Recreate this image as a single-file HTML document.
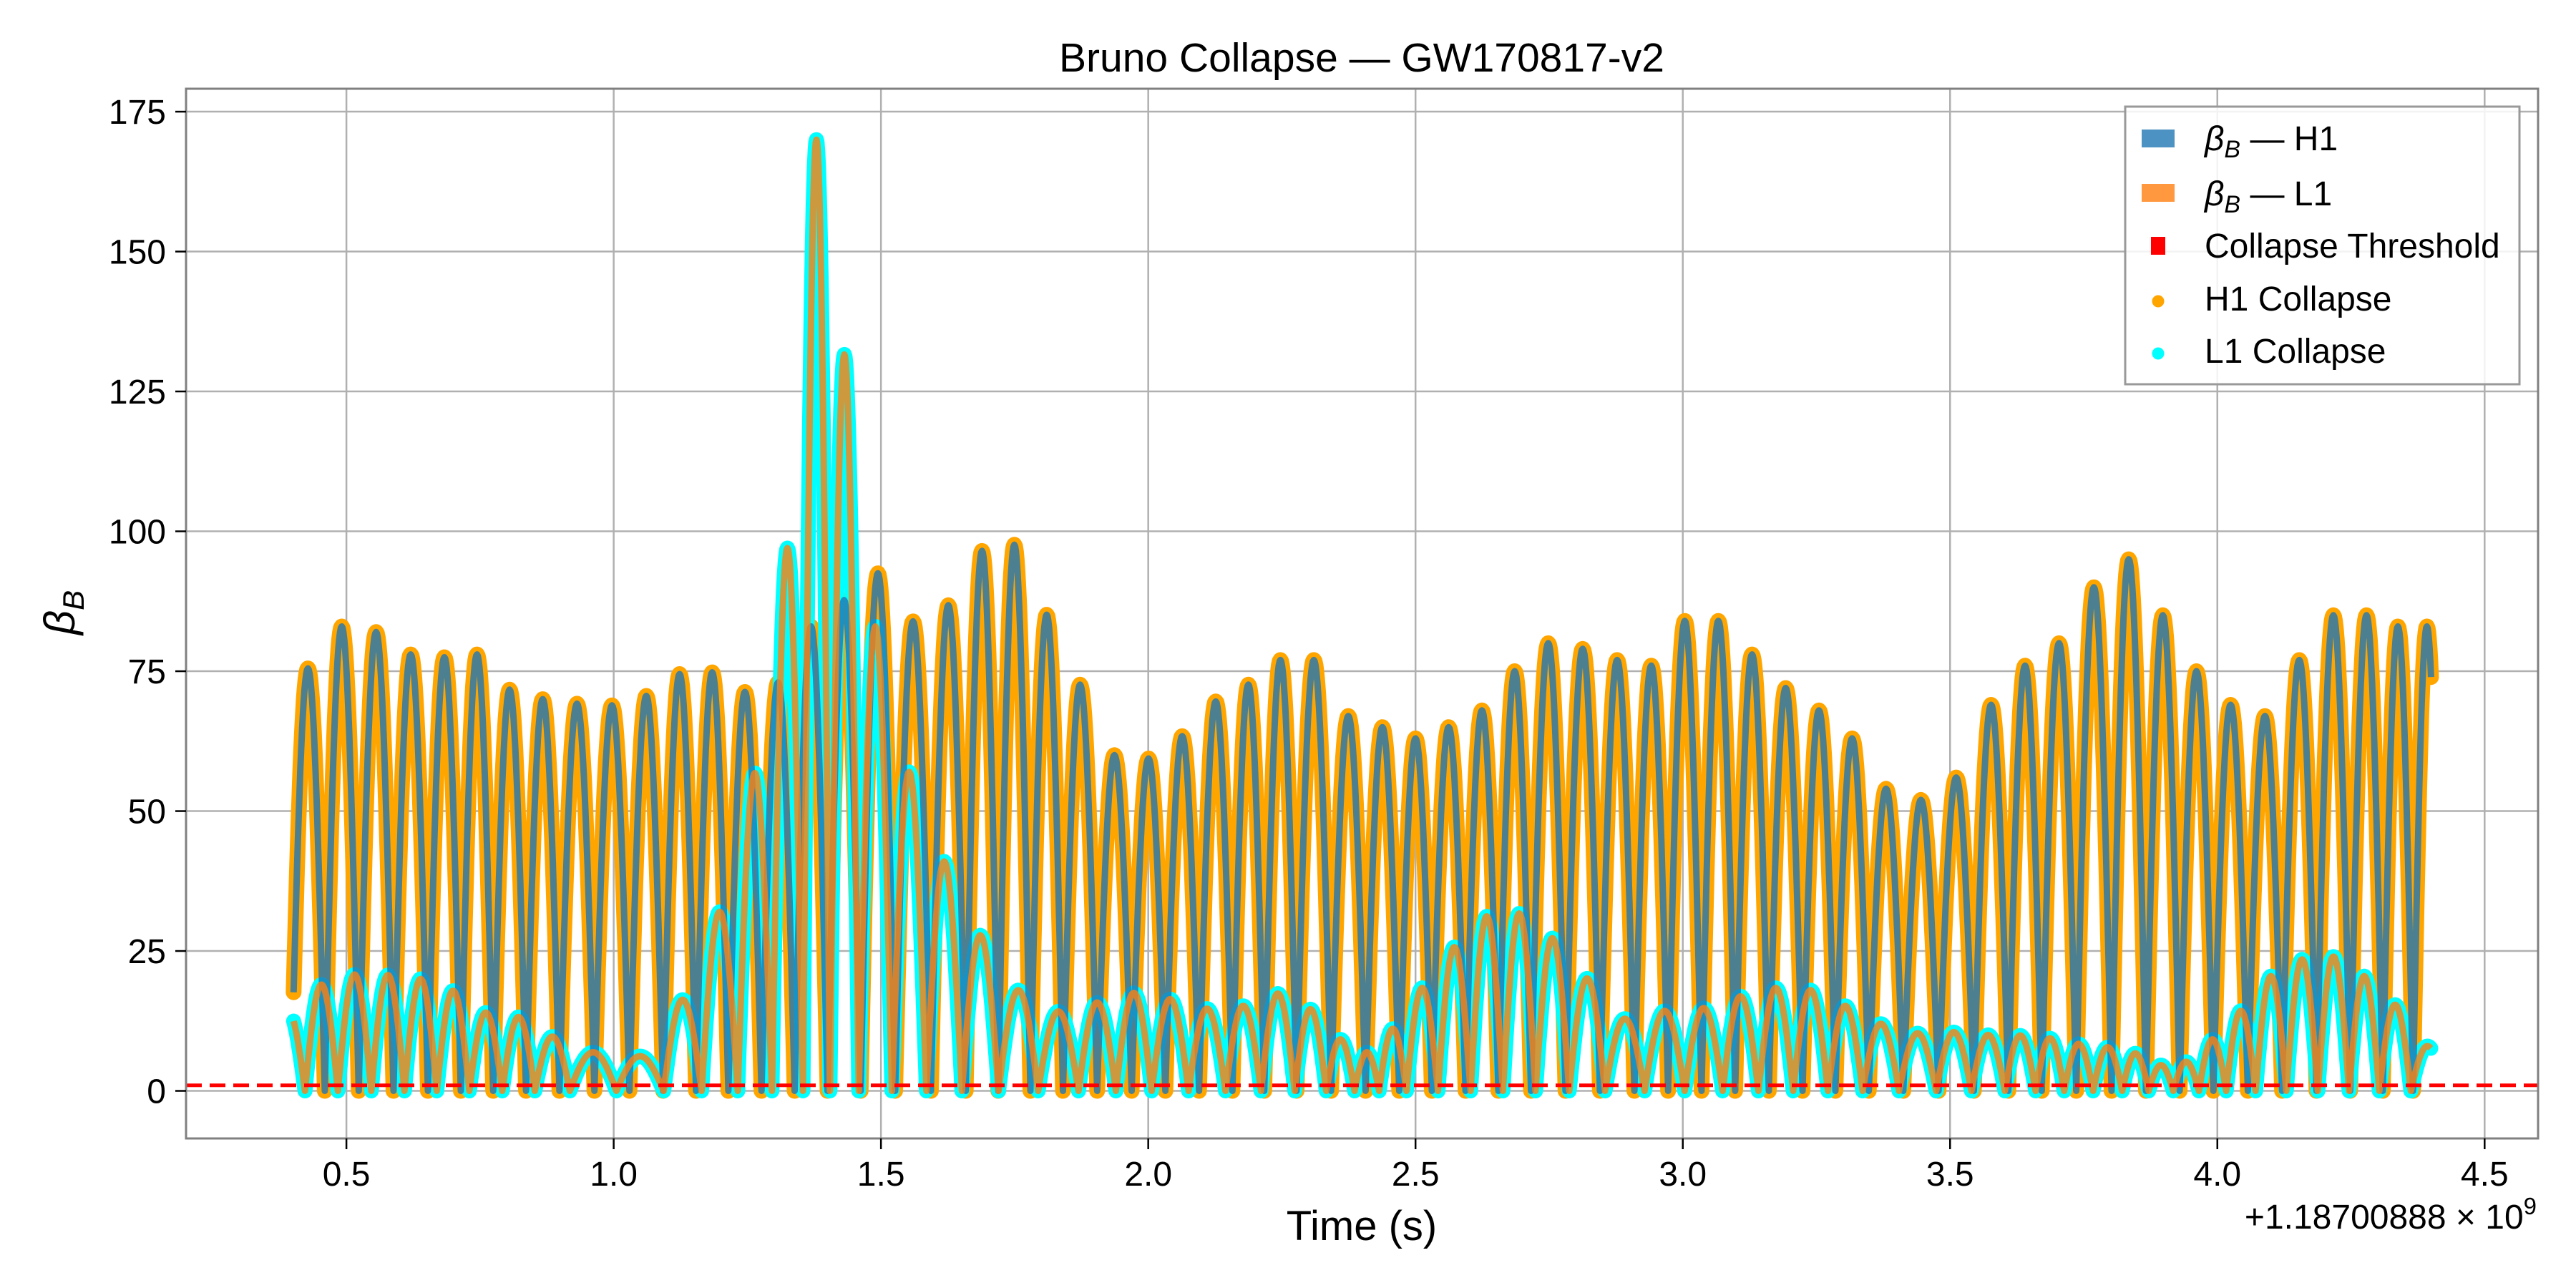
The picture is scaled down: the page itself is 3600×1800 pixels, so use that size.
<!DOCTYPE html>
<html><head><meta charset="utf-8"><title>Bruno Collapse — GW170817-v2</title>
<style>
html,body{margin:0;padding:0;background:#fff;}
svg{display:block;font-family:"Liberation Sans",Arial,sans-serif;}
</style></head>
<body>
<svg id="chart" width="3600" height="1800" viewBox="0 0 3600 1800" xmlns="http://www.w3.org/2000/svg">
<rect x="0" y="0" width="3600" height="1800" fill="#fff"/>
<g id="grid"></g>
<g id="clipg" clip-path="url(#plotclip)">
  <g id="series"></g>
</g>
<defs><clipPath id="plotclip"><rect x="260" y="124" width="3287" height="1467"/></clipPath></defs>
<rect x="260" y="124" width="3287" height="1467" fill="none" stroke="#808080" stroke-width="3"/>
<g id="ticks"></g>
<text x="1903" y="100" text-anchor="middle" font-size="57" fill="#000">Bruno Collapse — GW170817-v2</text>
<text x="1903" y="1733" text-anchor="middle" font-size="58" fill="#000">Time (s)</text>
<text transform="translate(104,856) rotate(-90)" text-anchor="middle" font-size="60" font-style="italic" fill="#000">β<tspan font-size="42" dy="13">B</tspan></text>
<text x="3545" y="1717" text-anchor="end" font-size="48" fill="#000">+1.18700888 × 10<tspan font-size="33" dy="-20">9</tspan></text>
<g id="legend">
  <rect x="2970" y="149" width="551" height="388" fill="#fff" fill-opacity="0.85" stroke="#999" stroke-width="3"/>
  <g>
    <rect x="2993" y="181" width="46" height="25" fill="#4c92c3"/>
    <text x="3081" y="210" font-size="48"><tspan font-style="italic">β</tspan><tspan font-style="italic" font-size="34" dy="10">B</tspan><tspan dy="-10"> — H1</tspan></text>
  </g>
  <g>
    <rect x="2993" y="257" width="46" height="25" fill="#ff983e"/>
    <text x="3081" y="287" font-size="48"><tspan font-style="italic">β</tspan><tspan font-style="italic" font-size="34" dy="10">B</tspan><tspan dy="-10"> — L1</tspan></text>
  </g>
  <g>
    <rect x="3006" y="331" width="20" height="25" fill="#ff0000"/>
    <text x="3081" y="360" font-size="48">Collapse Threshold</text>
  </g>
  <g>
    <circle cx="3016" cy="421" r="8.5" fill="#ffa500"/>
    <text x="3081" y="434" font-size="48">H1 Collapse</text>
  </g>
  <g>
    <circle cx="3016" cy="494" r="8.5" fill="#00ffff"/>
    <text x="3081" y="507" font-size="48">L1 Collapse</text>
  </g>
</g>
</svg>
<script>
// ---- data ----
const xTicks = [0.5,1.0,1.5,2.0,2.5,3.0,3.5,4.0,4.5];
const xTickLabels = ["0.5","1.0","1.5","2.0","2.5","3.0","3.5","4.0","4.5"];
const yTicks = [0,25,50,75,100,125,150,175];
const yTickLabels = ["0","25","50","75","100","125","150","175"];
const tStart = 0.4;
const tEnd = 4.4;
const threshold = 1.0;
const h1PeakTimes = [0.428,0.491,0.555,0.621,0.684,0.744,0.805,0.867,0.93,0.998,1.061,1.124,1.184,1.245,1.308,1.369,1.431,1.493,1.56,1.627,1.69,1.749,1.81,1.871,1.938,2.0,2.064,2.126,2.189,2.245,2.31,2.374,2.439,2.5,2.561,2.626,2.684,2.748,2.813,2.877,2.942,3.003,3.067,3.129,3.193,3.255,3.316,3.38,3.445,3.512,3.577,3.641,3.702,3.77,3.834,3.899,3.96,4.025,4.089,4.153,4.218,4.279,4.34,4.392];
const h1PeakValues = [75.5,83,82,78,77.5,78,71.7,70,69.2,68.9,70.6,74.5,74.8,71.3,73,83,87.7,92.5,83.9,86.8,96.5,97.6,85.1,72.6,60,59.4,63.4,69.6,72.6,77,77,67,65,63,65,68,75,80,79,77,76,84,84,78,72,68,63,54,52,56,69,76,80,90,95,85,75,69,67,77,85,85,83,83];
const l1PeakTimes = [0.392,0.453,0.515,0.578,0.639,0.699,0.761,0.822,0.883,0.953,1.057,1.13,1.199,1.265,1.327,1.381,1.428,1.489,1.552,1.618,1.685,1.755,1.833,1.906,1.973,2.04,2.111,2.178,2.244,2.304,2.362,2.41,2.454,2.512,2.572,2.634,2.693,2.756,2.819,2.89,2.967,3.04,3.109,3.174,3.239,3.304,3.369,3.44,3.508,3.572,3.633,3.687,3.74,3.795,3.849,3.894,3.941,3.99,4.043,4.1,4.158,4.218,4.275,4.331,4.393];
const l1PeakValues = [14,19,20.8,20.7,20,17.9,14,13.2,9.7,6.9,6.2,16.3,32,56.8,97,170,131.6,83,57,41,27.8,18,14.2,15.8,17.5,16.4,14.7,15.2,17.4,14.6,9.2,6.9,11.1,18.4,25.7,31.2,31.7,27.3,20.1,12.9,14.3,14.8,16.9,18.4,18,15.2,12,10.3,10.5,10,9.9,9.4,8.4,7.8,6.7,4.6,5.2,9.2,14.3,20.5,23.5,24,20.5,15.4,8];

// ---- axes ----
const X0=260, X1=3547, Y0=124, Y1=1591;
const xMin=0.2, xMax=4.6, yMin=-8.5, yMax=179.1;
function sx(t){return X0+(t-xMin)/(xMax-xMin)*(X1-X0);}
function sy(v){return Y1-(v-yMin)/(yMax-yMin)*(Y1-Y0);}
const NS="http://www.w3.org/2000/svg";
function mk(tag,attrs,parent){const e=document.createElementNS(NS,tag);for(const k in attrs)e.setAttribute(k,attrs[k]);parent.appendChild(e);return e;}

const grid=document.getElementById('grid');
const ticks=document.getElementById('ticks');
xTicks.forEach((t,i)=>{
  const g=mk('line',{x1:sx(t),x2:sx(t),y1:Y0,y2:Y1,stroke:'#b0b0b0','stroke-width':2.5},grid);
  
  
  const tk=mk('line',{x1:sx(t),x2:sx(t),y1:Y1,y2:Y1+15,stroke:'#000','stroke-width':2.5},ticks);
  
  
  const lb=mk('text',{x:sx(t),y:1657,'text-anchor':'middle','font-size':48,fill:'#000'},ticks);
  lb.textContent=xTickLabels[i];
  
  
});
yTicks.forEach((v,i)=>{
  const g=mk('line',{x1:X0,x2:X1,y1:sy(v),y2:sy(v),stroke:'#b0b0b0','stroke-width':2.5},grid);
  
  
  const tk=mk('line',{x1:X0-15,x2:X0,y1:sy(v),y2:sy(v),stroke:'#000','stroke-width':2.5},ticks);
  
  
  const lb=mk('text',{x:X0-28,y:sy(v)+17,'text-anchor':'end','font-size':48,fill:'#000'},ticks);
  lb.textContent=yTickLabels[i];
  
  
});

// ---- series: arches between zeros placed midway between successive peaks ----
function buildPath(times,vals){
  const n=times.length, zeros=[];
  zeros.push(times[0]-(times[1]-times[0])/2);
  for(let i=0;i<n-1;i++) zeros.push((times[i]+times[i+1])/2);
  zeros.push(times[n-1]+(times[n-1]-times[n-2])/2);
  let d='', first=true;
  for(let i=0;i<n;i++){
    const a=zeros[i], b=zeros[i+1], steps=40;
    for(let k=0;k<=steps;k++){
      const t=a+(b-a)*k/steps;
      if(t<tStart-1e-9||t>tEnd+1e-9) continue;
      const v=vals[i]*Math.sin(Math.PI*(t-a)/(b-a));
      d+=(first?'M':'L')+sx(t).toFixed(1)+','+sy(v).toFixed(1);
      first=false;
    }
  }
  return d;
}
const series=document.getElementById('series');
const h1d=buildPath(h1PeakTimes,h1PeakValues);
const l1d=buildPath(l1PeakTimes,l1PeakValues);

const h1Sc=mk('path',{d:h1d,fill:'none',stroke:'#ffa500','stroke-width':22,'stroke-linejoin':'round','stroke-linecap':'round'},series);


const l1Sc=mk('path',{d:l1d,fill:'none',stroke:'#00ffff','stroke-width':21,'stroke-linejoin':'round','stroke-linecap':'round'},series);


const h1L=mk('path',{d:h1d,fill:'none',stroke:'#1f77b4','stroke-opacity':0.8,'stroke-width':9,'stroke-linejoin':'round'},series);


const l1L=mk('path',{d:l1d,fill:'none',stroke:'#ff7f0e','stroke-opacity':0.8,'stroke-width':9,'stroke-linejoin':'round'},series);


const th=mk('line',{x1:X0,x2:X1,y1:sy(threshold),y2:sy(threshold),stroke:'#ff0000','stroke-width':5,'stroke-dasharray':'22,11'},series);


</script>
</body></html>
